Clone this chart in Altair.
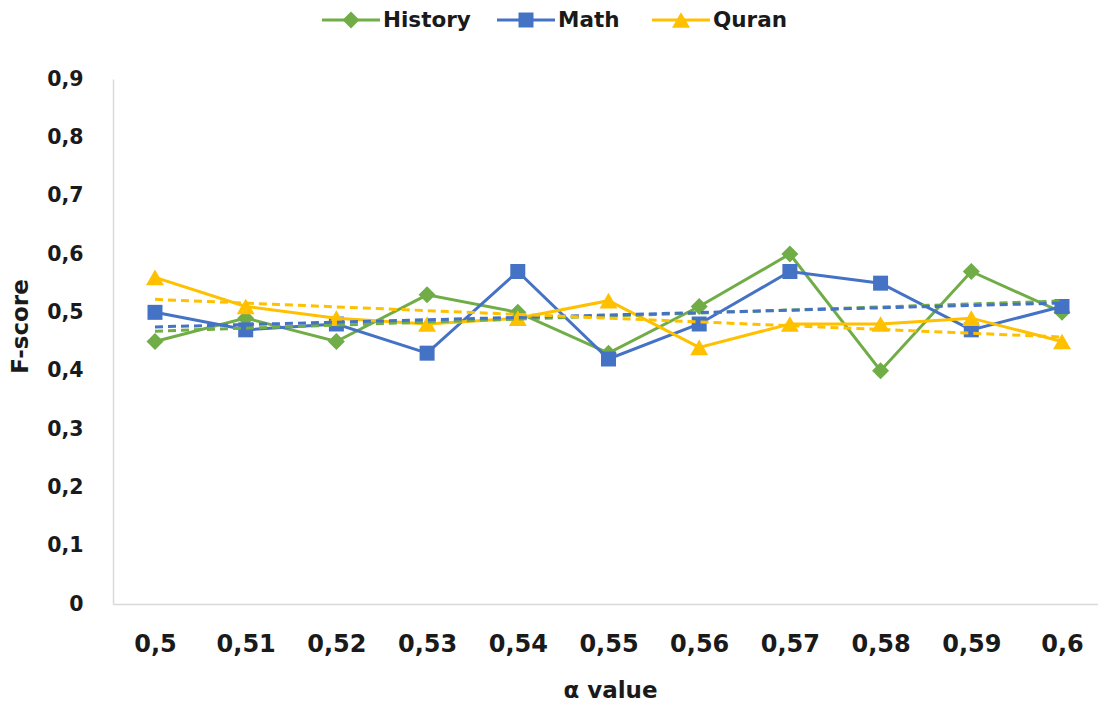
import altair as alt
import pandas as pd

# alpha values on the x axis
alpha = [0.5, 0.51, 0.52, 0.53, 0.54, 0.55, 0.56, 0.57, 0.58, 0.59, 0.6]

series_names = ["History", "Math", "Quran"]
history = [0.45, 0.49, 0.45, 0.53, 0.50, 0.43, 0.51, 0.60, 0.40, 0.57, 0.50]
math = [0.50, 0.47, 0.48, 0.43, 0.57, 0.42, 0.48, 0.57, 0.55, 0.47, 0.51]
quran = [0.56, 0.51, 0.49, 0.48, 0.49, 0.52, 0.44, 0.48, 0.48, 0.49, 0.45]

colors = ["#70AD47", "#4472C4", "#FFC000"]
marker_shapes = ["diamond", "square", "triangle-up"]
marker_sizes = [289, 225, 324]

rows = []
for name, vals in zip(series_names, [history, math, quran]):
    for a, v in zip(alpha, vals):
        rows.append({"alpha": a, "fscore": v, "series": name})
df = pd.DataFrame(rows)

FONT = "DejaVu Sans"
TEXT = "#1a1a1a"
AXIS_GRAY = "#d9d9d9"

# plot area origin inside the page
LEFT, TOP = 113, 79

color_scale = alt.Scale(domain=series_names, range=colors)

x_enc = alt.X(
    "alpha:Q",
    scale=alt.Scale(domain=[0.49537, 0.60397], nice=False, zero=False),
    axis=alt.Axis(
        values=alpha,
        format=".2~f",
        labelExpr="replace(datum.label, '.', ',')",
        title="α value",
        ticks=False,
        grid=False,
        domainColor=AXIS_GRAY,
        domainWidth=1.5,
        labelFont=FONT,
        labelFontSize=24,
        labelFontWeight="bold",
        labelColor=TEXT,
        labelPadding=28,
        labelOverlap=False,
        titleFont=FONT,
        titleFontSize=23,
        titleFontWeight="bold",
        titleColor=TEXT,
        titleX=497,
        titleY=86,
        titleBaseline="middle",
    ),
)

y_enc = alt.Y(
    "fscore:Q",
    scale=alt.Scale(domain=[0, 0.9], nice=False),
    axis=alt.Axis(
        values=[0, 0.1, 0.2, 0.3, 0.4, 0.5, 0.6, 0.7, 0.8, 0.9],
        format=".1~f",
        labelExpr="replace(datum.label, '.', ',')",
        title="F-score",
        ticks=False,
        grid=False,
        domainColor=AXIS_GRAY,
        domainWidth=1.5,
        labelFont=FONT,
        labelFontSize=20.5,
        labelFontWeight="bold",
        labelColor=TEXT,
        labelPadding=30,
        titleFont=FONT,
        titleFontSize=23,
        titleFontWeight="bold",
        titleColor=TEXT,
        titleX=-93,
        titleY=247,
        titleBaseline="middle",
    ),
)

base = alt.Chart(df)

layers = []
for name, col, shp, sz in zip(series_names, colors, marker_shapes, marker_sizes):
    sub = base.transform_filter(alt.datum.series == name)
    layers.append(sub.mark_line(color=col, strokeWidth=3).encode(x=x_enc, y=y_enc))
    layers.append(
        sub.mark_point(shape=shp, size=sz, filled=True, color=col, opacity=1).encode(
            x=x_enc, y=y_enc
        )
    )

# linear trend per series, dashed
trend = (
    base.transform_regression("alpha", "fscore", groupby=["series"])
    .mark_line(strokeDash=[8, 5], strokeWidth=3)
    .encode(
        x=x_enc,
        y=y_enc,
        color=alt.Color("series:N", scale=color_scale, legend=None),
    )
)
layers.append(trend)

# legend row above the plot: a short line with the marker, then the name
legend_starts = [322, 497, 652]  # left edge of each legend entry on the page
LEG_Y = 20 - TOP
LINE_LEN = 58
for name, col, shp, sz, x0 in zip(series_names, colors, marker_shapes, marker_sizes, legend_starts):
    item = alt.Chart(pd.DataFrame({"series": [name]}))
    lx = x0 - LEFT
    layers.append(
        item.mark_rule(color=col, strokeWidth=3).encode(
            x=alt.value(lx), x2=alt.value(lx + LINE_LEN), y=alt.value(LEG_Y)
        )
    )
    layers.append(
        item.mark_point(shape=shp, size=sz, filled=True, color=col, opacity=1).encode(
            x=alt.value(lx + LINE_LEN / 2), y=alt.value(LEG_Y)
        )
    )
    layers.append(
        item.mark_text(
            align="left",
            baseline="middle",
            font=FONT,
            fontSize=21.5,
            fontWeight="bold",
            color=TEXT,
        ).encode(
            x=alt.value(lx + LINE_LEN + 3),
            y=alt.value(LEG_Y + 1),
            text="series:N",
        )
    )

chart = (
    alt.layer(*layers)
    .properties(
        width=985,
        height=525,
        padding={"left": LEFT, "top": TOP, "right": 0, "bottom": 100},
        autosize=alt.AutoSizeParams(type="none"),
        background="white",
    )
    .configure_view(stroke=None)
)

chart.save("out.html", embed_options={"renderer": "svg", "actions": False})
